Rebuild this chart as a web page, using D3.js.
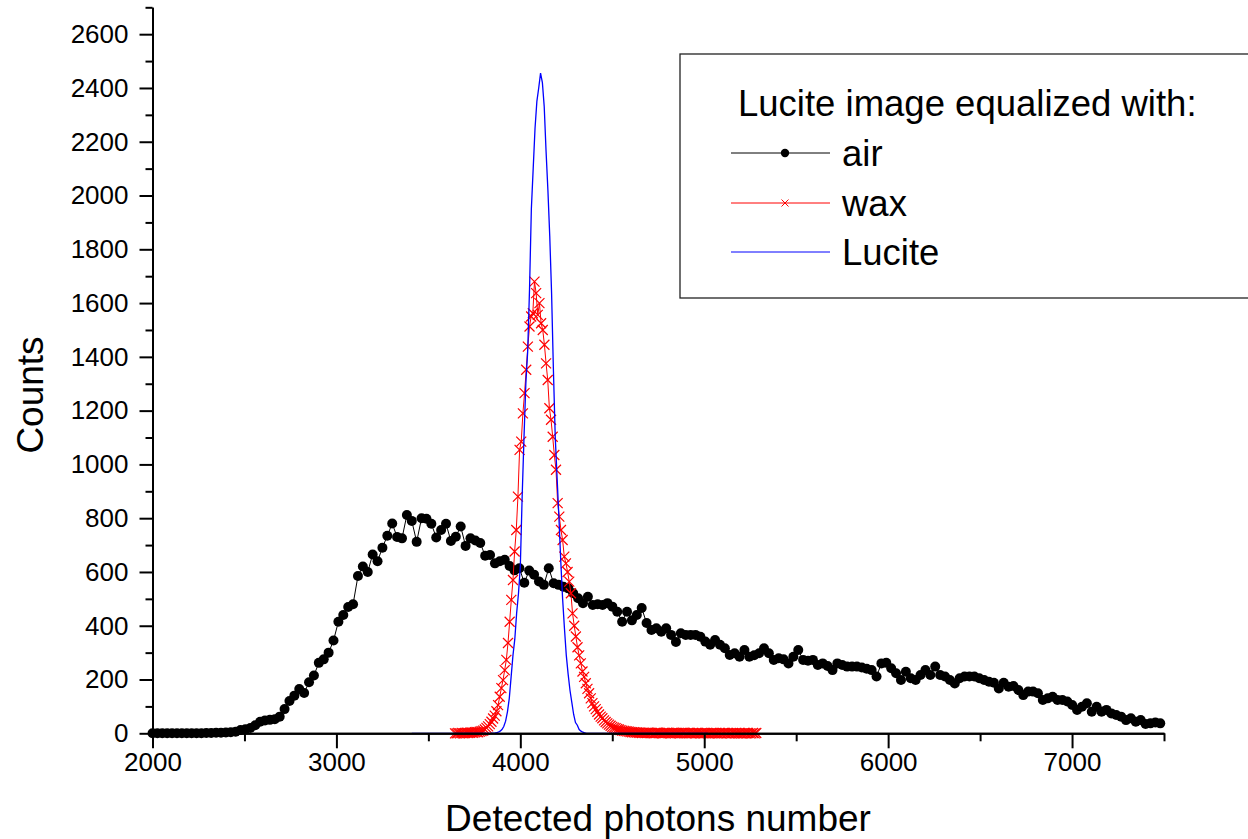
<!DOCTYPE html>
<html>
<head>
<meta charset="utf-8">
<script src="https://cdn.jsdelivr.net/npm/d3@7"></script>
<style>
  html, body { margin: 0; padding: 0; background: #fff; }
  svg { display: block; }
  text { font-family: "Liberation Sans", Arial, sans-serif; fill: #000; }
</style>
</head>
<body>
<svg id="chart" width="1248" height="839"></svg>
<script>
// ---------------- data ----------------
const xTicksMajor = [2000, 3000, 4000, 5000, 6000, 7000];
const xTicksMinor = [2500, 3500, 4500, 5500, 6500, 7500];
const yTicksMajor = [0, 200, 400, 600, 800, 1000, 1200, 1400, 1600, 1800, 2000, 2200, 2400, 2600];
const yTicksMinor = [100, 300, 500, 700, 900, 1100, 1300, 1500, 1700, 1900, 2100, 2300, 2500, 2700];

const seriesNames = ["air", "wax", "Lucite"];
const legendTitle = "Lucite image equalized with:";
const xTitle = "Detected photons number";
const yTitle = "Counts";

// air: histogram bins starting at 2000, bin width 26.6
const airStart = 2000, airBin = 26.6;
const airCounts = [
  0,0,0,0,0,0,0,0,0,0,0,
  1,1,2,2,3,4,6,
  12,15,20,30,43,48,50,52,62,90,120,140,
  165,150,190,215,262,275,300,345,415,440,470,480,
  585,620,600,665,640,690,735,780,730,725,812,790,
  712,800,798,779,728,756,779,715,731,769,697,725,
  717,708,660,663,632,640,645,622,606,614,560,605,
  590,565,552,614,558,552,545,539,521,502,484,508,
  477,480,477,484,471,452,415,452,420,440,466,410,
  384,391,378,391,366,340,372,366,366,366,359,341,
  329,347,329,316,291,298,285,310,285,290,298,316,
  298,273,279,275,260,285,310,273,270,273,254,260,
  250,235,260,254,248,248,248,245,240,235,211,260,
  262,242,223,198,229,205,198,217,235,217,248,217,
  211,198,185,205,211,211,211,205,198,192,188,167,
  188,173,176,161,142,155,155,149,124,130,136,124,
  124,118,105,87,99,112,80,99,80,87,74,68,
  62,49,56,43,49,35,37,40,37
];

// wax: bins starting at 3645, bin width 9
const waxStart = 3645, waxBin = 9;
const waxCounts = [
  0,0,1,0,1,0,1,2,1,2,3,2,4,5,4,6,8,10,14,20,
  26,34,43,55,66,82,105,136,168,198,235,273,336,415,496,570,676,756,880,1054,
  1085,1190,1265,1352,1438,1513,1550,1562,1680,1637,1556,1600,1525,1500,1445,1376,1314,1209,1166,1103,
  1035,980,856,806,756,719,657,632,600,564,521,446,400,360,320,290,260,230,210,186,
  165,149,130,112,100,90,80,70,62,56,48,42,37,32,28,24,21,19,16,14,
  12,10,9,8,7,6,5,4,4,3,3,2,
  2,1,2,1,1,2,1,1,0,1,2,1,1,0,1,1,2,1,0,1,
  1,0,1,1,0,1,2,1,0,1,1,0,1,0,1,1,0,1,0,1,
  1,0,0,1,1,0,1,0,1,0,1,1,0,1,0,0,1,0,1,0,
  1,0,0,1,0,1,0,0,1,0,1
];

// Lucite: bins starting at 3410, bin width 10
const lucStart = 3410, lucBin = 10;
const lucCounts = [
  0,0,0,0,0,0,0,0,0,0,0,0,0,0,0,0,0,0,0,0,
  0,0,0,0,0,0,0,0,0,0,0,0,0,0,0,0,0,0,0,0,
  0,0,0,0,1,1,
  2,4,8,14,25,45,80,130,210,290,350,447,520,620,880,1100,1300,1420,1650,1950,
  2100,2250,2350,2400,2455,2420,2330,2165,2020,1850,1637,1350,1100,950,800,640,500,390,290,220,
  160,115,70,40,30,14,8,4,2,
  0,0,0,0,0,0,0,0,0,0,0,0,0,0,0,0,0,0,0,0,
  0,0,0,0,0,0,0,0,0,0,0,0,0,0,0,0,0,0,0,0,
  0,0,0,0,0,0,0,0,0,0,0,0,0,0,0,0,0,0,0,0,
  0,0,0,0,0,0,0
];

const toPoints = (start, bin, counts) => counts.map((c, i) => ({ x: start + i * bin, y: c }));
const airData = toPoints(airStart, airBin, airCounts);
const waxData = toPoints(waxStart, waxBin, waxCounts);
const lucData = toPoints(lucStart, lucBin, lucCounts);

// ---------------- drawing ----------------
const svg = d3.select("#chart");
const x = d3.scaleLinear().domain([2000, 7500]).range([152.5, 1164]);
const y = d3.scaleLinear().domain([0, 2700]).range([733.3, 7.3]);

const line = d3.line().x(d => x(d.x)).y(d => y(d.y));

const plot = svg.append("g");

// air
plot.append("path").datum(airData)
  .attr("d", line).attr("fill", "none").attr("stroke", "#000").attr("stroke-width", 1);
plot.append("g").selectAll("circle").data(airData).join("circle")
  .attr("cx", d => x(d.x)).attr("cy", d => y(d.y)).attr("r", 5).attr("fill", "#000");

// wax
plot.append("path").datum(waxData)
  .attr("d", line).attr("fill", "none").attr("stroke", "#ff0000").attr("stroke-width", 1);
const xs = 5;
plot.append("g").selectAll("path").data(waxData).join("path")
  .attr("d", d => {
    const cx = x(d.x), cy = y(d.y);
    return `M${cx - xs},${cy - xs}L${cx + xs},${cy + xs}M${cx - xs},${cy + xs}L${cx + xs},${cy - xs}`;
  })
  .attr("stroke", "#ff0000").attr("stroke-width", 1.2).attr("fill", "none");

// Lucite
plot.append("path").datum(lucData)
  .attr("d", line).attr("fill", "none").attr("stroke", "#0000ff").attr("stroke-width", 1.3);

// axes
const fontTick = 26;
svg.append("g").attr("transform", `translate(${x(2000)},0)`)
  .call(d3.axisLeft(y).tickValues(yTicksMajor).tickSize(13).tickPadding(11).tickSizeOuter(0).tickFormat(d3.format("d")));
svg.append("g").attr("transform", `translate(${x(2000)},0)`)
  .call(d3.axisLeft(y).tickValues(yTicksMinor).tickSize(7).tickFormat("").tickSizeOuter(0));
svg.append("g").attr("transform", `translate(0,${y(0)})`)
  .call(d3.axisBottom(x).tickValues(xTicksMajor).tickSize(15).tickPadding(4).tickSizeOuter(0).tickFormat(d3.format("d")));
svg.append("g").attr("transform", `translate(0,${y(0)})`)
  .call(d3.axisBottom(x).tickValues(xTicksMinor).tickSize(8).tickFormat("").tickSizeOuter(0));

svg.selectAll(".domain").attr("stroke", "#000").attr("stroke-width", 2);
svg.selectAll(".tick line").attr("stroke", "#000").attr("stroke-width", 2);
svg.selectAll(".tick text")
  .style("font-family", '"Liberation Sans", Arial, sans-serif')
  .style("font-size", fontTick + "px").attr("fill", "#000");

// axis titles
svg.append("text").attr("x", 658).attr("y", 831).attr("text-anchor", "middle")
  .style("font-size", "37px").text(xTitle);
svg.append("text").attr("transform", "translate(43,395) rotate(-90)").attr("text-anchor", "middle")
  .style("font-size", "37px").text(yTitle);

// legend
const lg = svg.append("g");
lg.append("rect").attr("x", 680).attr("y", 54).attr("width", 600).attr("height", 244)
  .attr("fill", "#fff").attr("stroke", "#222").attr("stroke-width", 1.3);
lg.append("text").attr("x", 738).attr("y", 116).style("font-size", "36.5px").text(legendTitle);
const legendColors = ["#000", "#ff0000", "#0000ff"];
const legendY = [153, 203, 252];
seriesNames.forEach((name, i) => {
  const ly = legendY[i];
  lg.append("line").attr("x1", 731).attr("x2", 830).attr("y1", ly).attr("y2", ly)
    .attr("stroke", legendColors[i]).attr("stroke-width", 1);
  if (i === 0) {
    lg.append("circle").attr("cx", 785).attr("cy", ly).attr("r", 4.2).attr("fill", "#000");
  } else if (i === 1) {
    const s = 3.5;
    lg.append("path").attr("d", `M${785 - s},${ly - s}L${785 + s},${ly + s}M${785 - s},${ly + s}L${785 + s},${ly - s}`)
      .attr("stroke", "#ff0000").attr("stroke-width", 1);
  }
  lg.append("text").attr("x", 842).attr("y", ly + 13).style("font-size", "36.5px").text(name);
});
</script>
</body>
</html>
